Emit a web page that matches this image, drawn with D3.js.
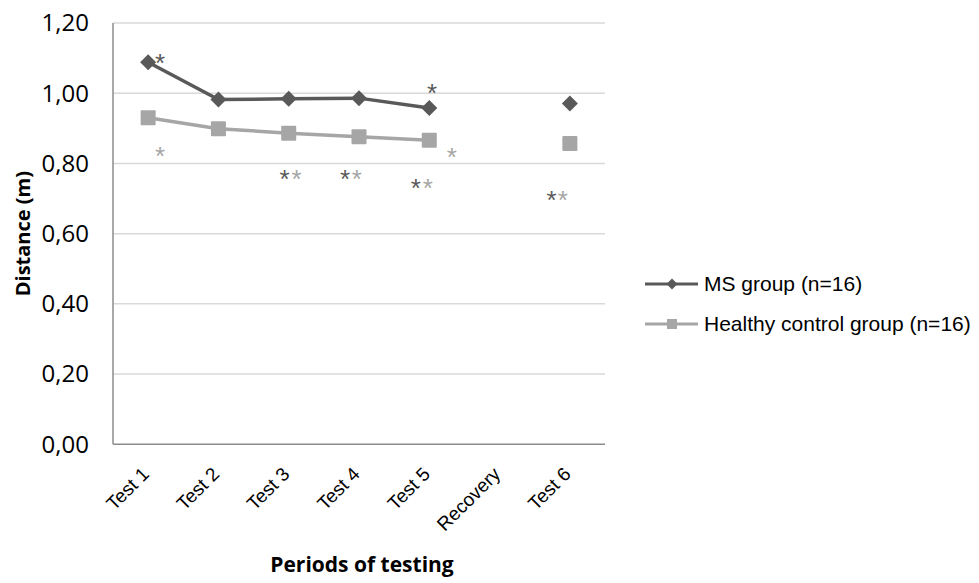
<!DOCTYPE html>
<html>
<head>
<meta charset="utf-8">
<script src="https://cdn.jsdelivr.net/npm/d3@7"></script>
<style>
  body { margin: 0; background: #fff; }
  svg { display: block; }
</style>
</head>
<body>
<svg id="chart" width="979" height="583"></svg>
<script>
const width = 979;
const height = 583;

// categories along the x axis
const periods = ['Test 1', 'Test 2', 'Test 3', 'Test 4', 'Test 5', 'Recovery', 'Test 6'];

// mean distance (m), null = no measurement (recovery)
const msValues      = [1.088, 0.982, 0.984, 0.986, 0.958, null, 0.971];
const healthyValues = [0.930, 0.899, 0.886, 0.876, 0.866, null, 0.857];

const yTicks = [0, 0.2, 0.4, 0.6, 0.8, 1.0, 1.2];

const seriesNames = ['MS group (n=16)', 'Healthy control group (n=16)'];

// significance stars: category, value level, which group colour, shift in band fractions
const starCats   = ['Test 1', 'Test 1', 'Test 3', 'Test 3', 'Test 4', 'Test 4', 'Test 5', 'Test 5', 'Test 5', 'Test 5', 'Test 6', 'Test 6'];
const starLevels = [1.103, 0.838, 0.773, 0.773, 0.774, 0.774, 1.019, 0.835, 0.748, 0.748, 0.713, 0.713];
const starGroups = ['ms', 'hc', 'ms', 'hc', 'ms', 'hc', 'ms', 'hc', 'ms', 'hc', 'ms', 'hc'];
const starShift  = [0.17, 0.17, -0.06, 0.11, -0.2, -0.03, 0.04, 0.32, -0.19, -0.02, -0.26, -0.1];

const darkGrey = '#595959';
const lightGrey = '#a6a6a6';

const margin = { left: 113, right: 979 - 605, top: 23, bottom: 583 - 444.3 };

const svg = d3.select('#chart');

const x = d3.scaleBand()
  .domain(periods)
  .range([margin.left, width - margin.right]);

const y = d3.scaleLinear()
  .domain([0, 1.2])
  .range([height - margin.bottom, margin.top]);

const xc = d => x(d) + x.bandwidth() / 2;

// gridlines
svg.append('g')
  .selectAll('line')
  .data(yTicks.filter(t => t > 0))
  .enter()
  .append('line')
  .attr('x1', margin.left)
  .attr('x2', width - margin.right)
  .attr('y1', d => y(d))
  .attr('y2', d => y(d))
  .attr('stroke', '#d9d9d9')
  .attr('stroke-width', 1.5);

// axes lines
svg.append('line')
  .attr('x1', margin.left).attr('x2', margin.left)
  .attr('y1', y(1.2)).attr('y2', y(0))
  .attr('stroke', '#8c8c8c').attr('stroke-width', 1.5);
svg.append('line')
  .attr('x1', margin.left).attr('x2', width - margin.right)
  .attr('y1', y(0)).attr('y2', y(0))
  .attr('stroke', '#8c8c8c').attr('stroke-width', 1.5);

// y tick labels
svg.append('g')
  .selectAll('text')
  .data(yTicks)
  .enter()
  .append('text')
  .attr('x', 89)
  .attr('y', d => y(d))
  .attr('dy', '0.35em')
  .attr('text-anchor', 'end')
  .attr('font-family', '"Open Sans", sans-serif')
  .attr('font-size', 24)
  .attr('fill', '#000')
  .text(d => d3.format('.2f')(d).replace('.', ','));

// x tick labels, rotated
svg.append('g')
  .selectAll('text')
  .data(periods)
  .enter()
  .append('text')
  .attr('transform', d => `translate(${xc(d) + 2},${y(0) + 31}) rotate(-45)`)
  .attr('text-anchor', 'end')
  .attr('font-family', '"Liberation Sans", Arial, sans-serif')
  .attr('font-size', 19)
  .attr('fill', '#000')
  .text(d => d);

// axis titles
svg.append('text')
  .attr('x', 362)
  .attr('y', 572)
  .attr('text-anchor', 'middle')
  .attr('font-family', '"Open Sans", sans-serif')
  .attr('font-weight', 'bold')
  .attr('font-size', 21)
  .text('Periods of testing');

svg.append('text')
  .attr('transform', `translate(30,${y(0.6)}) rotate(-90)`)
  .attr('text-anchor', 'middle')
  .attr('font-family', '"Open Sans", sans-serif')
  .attr('font-weight', 'bold')
  .attr('font-size', 20)
  .text('Distance (m)');

// series
const series = [
  { name: seriesNames[0], values: msValues, color: darkGrey, kind: 'diamond' },
  { name: seriesNames[1], values: healthyValues, color: lightGrey, kind: 'square' }
];

const line = d3.line()
  .defined(d => d.v !== null)
  .x(d => xc(d.cat))
  .y(d => y(d.v));

series.forEach(s => {
  const pts = periods.map((cat, i) => ({ cat: cat, v: s.values[i] }));
  // the line stops before recovery, last test stays a lone marker
  const joined = pts.slice(0, 5);
  svg.append('path')
    .datum(joined)
    .attr('d', line)
    .attr('fill', 'none')
    .attr('stroke', s.color)
    .attr('stroke-width', 3.5)
    .attr('stroke-linejoin', 'round');

  svg.append('g')
    .selectAll('path')
    .data(pts.filter(d => d.v !== null))
    .enter()
    .append('path')
    .attr('transform', d => `translate(${xc(d.cat)},${y(d.v)})`)
    .attr('d', s.kind === 'square'
      ? 'M-7.5,-6.5Q-7.5,-7.5 -6.5,-7.5L6.5,-7.5Q7.5,-7.5 7.5,-6.5L7.5,6.5Q7.5,7.5 6.5,7.5L-6.5,7.5Q-7.5,7.5 -7.5,6.5Z'
      : 'M0,-8L8,0L0,8L-8,0Z')
    .attr('fill', s.color);
});

// stars
svg.append('g')
  .selectAll('text')
  .data(starCats.map((c, i) => ({ cat: c, v: starLevels[i], g: starGroups[i], dx: starShift[i] })))
  .enter()
  .append('text')
  .attr('x', d => xc(d.cat) + d.dx * x.bandwidth())
  .attr('y', d => y(d.v) + 15)
  .attr('text-anchor', 'middle')
  .attr('font-family', '"Liberation Sans", Arial, sans-serif')
  .attr('font-size', 26)
  .attr('fill', d => d.g === 'ms' ? darkGrey : lightGrey)
  .text('*');

// legend
const legend = svg.append('g');
const legendY = [284, 324];
series.forEach((s, i) => {
  const g = legend.append('g').attr('transform', `translate(645,${legendY[i]})`);
  g.append('line')
    .attr('x1', 0).attr('x2', 53)
    .attr('stroke', s.color).attr('stroke-width', 3);
  g.append('path')
    .attr('transform', 'translate(27,0)')
    .attr('d', s.kind === 'square' ? 'M-5,-5H5V5H-5Z' : 'M0,-5.5L5.5,0L0,5.5L-5.5,0Z')
    .attr('fill', s.color);
  g.append('text')
    .attr('x', 59)
    .attr('dy', '0.35em')
    .attr('font-family', '"Liberation Sans", Arial, sans-serif')
    .attr('font-size', 21)
    .text(s.name);
});
</script>
</body>
</html>
